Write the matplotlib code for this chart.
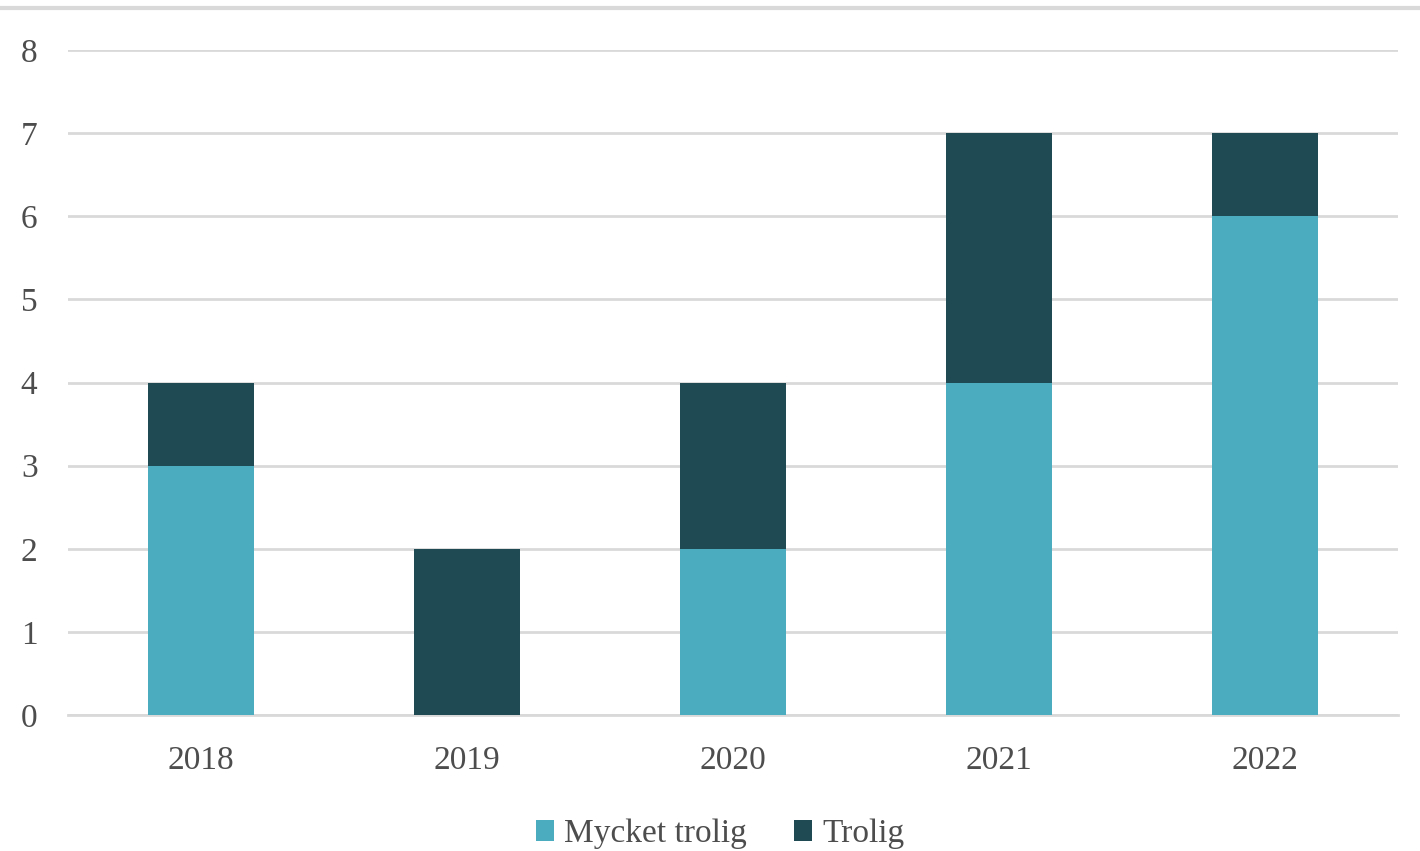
import matplotlib.pyplot as plt
import numpy as np

years = ['2018', '2019', '2020', '2021', '2022']
mycket_trolig = [3, 0, 2, 4, 6]
trolig = [1, 2, 2, 3, 1]

light = '#4BACC0'
dark = '#1F4A54'
grid_col = '#D9D9D9'
text_col = '#4D4D4D'

plt.rcParams['font.family'] = ['Liberation Serif', 'DejaVu Serif']

fig = plt.figure(figsize=(14.2, 8.51), dpi=100)
ax = fig.add_axes([0.0479, 0.1598, 0.9366, 0.7814])

x = np.arange(len(years))
ax.bar(x, mycket_trolig, width=0.4, color=light, label='Mycket trolig', zorder=3)
ax.bar(x, trolig, width=0.4, bottom=mycket_trolig, color=dark, label='Trolig', zorder=3)

ax.set_xlim(-0.5, len(years) - 0.5)
ax.set_ylim(0, 8)
ax.set_yticks(range(9))
ax.set_xticks(x)
ax.set_xticklabels(years)
ax.yaxis.grid(True, color=grid_col, lw=2, zorder=0)
ax.set_axisbelow(True)

for s in ['top', 'right', 'left']:
    ax.spines[s].set_visible(False)
ax.spines['bottom'].set_color(grid_col)
ax.spines['bottom'].set_linewidth(2)

ax.tick_params(axis='both', length=0, labelsize=24, colors=text_col)
ax.tick_params(axis='y', pad=22)
ax.tick_params(axis='x', pad=22)

# thin rule across the top of the figure
fig.add_artist(plt.Line2D([0, 1], [1 - 8 / 851, 1 - 8 / 851], color=grid_col, lw=3,
                          transform=fig.transFigure))

leg = fig.legend(loc='center', bbox_to_anchor=(0.507, 1 - 834 / 851), ncol=2, frameon=False,
                 fontsize=24, handlelength=0.55, handleheight=0.55, handletextpad=0.3,
                 columnspacing=1.4)
for t in leg.get_texts():
    t.set_color(text_col)

fig.savefig('out.png', dpi=100)
